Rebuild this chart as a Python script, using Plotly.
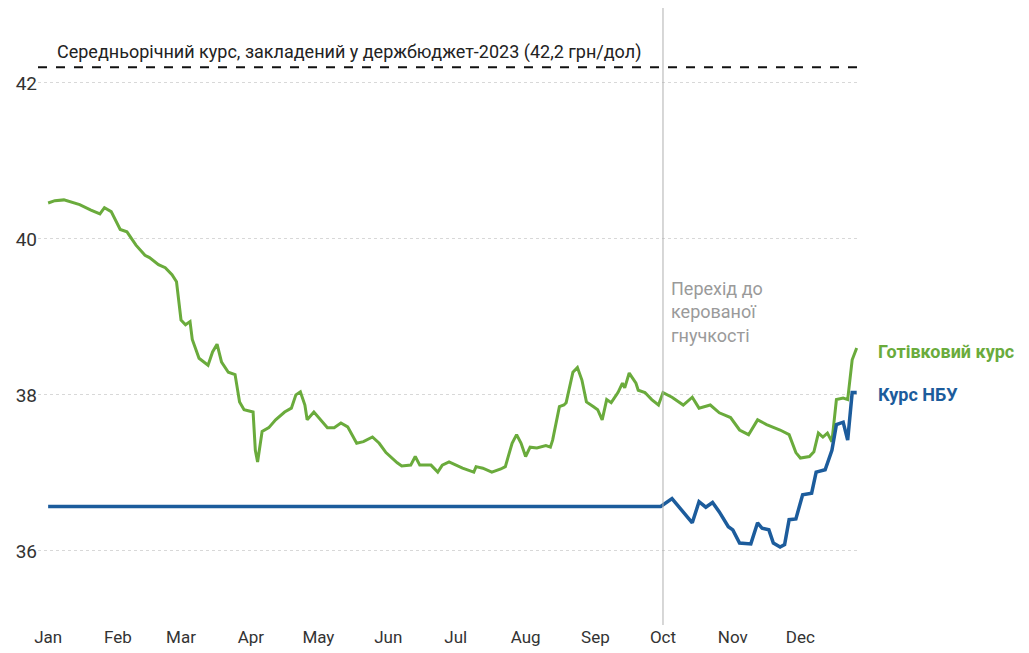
import plotly.graph_objects as go
import pandas as pd

# ─── Data (days since 1 Jan 2023, UAH per USD) ───────────────────────────────
START = pd.Timestamp("2023-01-01")

cash_days = [0, 3, 7, 11, 14, 19, 23, 25, 28, 32, 35, 39, 43, 45, 49, 52, 55, 57, 59, 61,
             63, 64, 67, 71, 73, 75, 77, 80, 83, 85, 87, 91, 92, 93, 95, 98, 101, 105, 108, 110,
             112, 114, 115, 118, 121, 124, 127, 130, 133, 137, 140, 144, 147, 150, 155, 157, 161, 163, 165, 170,
             173, 175, 178, 182, 184, 189, 190, 193, 197, 201, 203, 206, 208, 210, 212, 214, 217, 221, 223, 224,
             227, 229, 230, 233, 235, 237, 239, 242, 244, 246, 248, 250, 253, 255, 256, 258, 261, 262, 265, 268,
             271, 273, 277, 282, 286, 289, 294, 298, 303, 307, 311, 315, 319, 325, 329, 332, 334, 338, 340, 342,
             344, 346, 348, 350, 353, 355, 357, 359]
cash_rate = [40.46, 40.49, 40.50, 40.47, 40.44, 40.37, 40.32, 40.40, 40.35, 40.12, 40.09, 39.92, 39.79, 39.76, 39.67, 39.63, 39.54, 39.45, 38.96, 38.90,
             38.94, 38.71, 38.47, 38.38, 38.55, 38.65, 38.42, 38.29, 38.26, 37.91, 37.81, 37.78, 37.29, 37.14, 37.53, 37.58, 37.68, 37.78, 37.83, 38.00,
             38.04, 37.87, 37.68, 37.78, 37.68, 37.58, 37.58, 37.64, 37.59, 37.38, 37.40, 37.46, 37.38, 37.26, 37.13, 37.09, 37.10, 37.21, 37.10, 37.10,
             37.01, 37.10, 37.14, 37.09, 37.06, 37.01, 37.08, 37.06, 37.01, 37.05, 37.08, 37.38, 37.49, 37.38, 37.21, 37.33, 37.32, 37.35, 37.33, 37.42,
             37.85, 37.87, 37.90, 38.29, 38.35, 38.19, 37.91, 37.85, 37.81, 37.68, 37.94, 37.90, 38.03, 38.15, 38.09, 38.28, 38.15, 38.06, 38.03, 37.94,
             37.87, 38.03, 37.97, 37.87, 37.97, 37.83, 37.87, 37.77, 37.71, 37.55, 37.49, 37.68, 37.62, 37.55, 37.49, 37.26, 37.19, 37.21, 37.27, 37.51,
             37.46, 37.51, 37.40, 37.94, 37.96, 37.94, 38.45, 38.60]

nbu_days = [0, 272, 277, 281, 284, 286, 289, 292, 295, 298, 302, 304, 307, 312, 315, 317, 320, 322, 325, 327,
            329, 332, 335, 339, 341, 345, 348, 350, 353, 355, 357, 359]
nbu_rate = [36.57, 36.57, 36.67, 36.53, 36.42, 36.36, 36.63, 36.56, 36.62, 36.50, 36.31, 36.27, 36.10, 36.09, 36.36, 36.29, 36.27, 36.10, 36.05, 36.08,
            36.40, 36.41, 36.72, 36.74, 37.01, 37.04, 37.29, 37.62, 37.65, 37.42, 38.03, 38.03]

budget_rate = 42.2
float_date = "2023-10-01"

month_ticks = pd.date_range("2023-01-01", "2023-12-01", freq="MS")
month_labels = ["Jan", "Feb", "Mar", "Apr", "May", "Jun", "Jul", "Aug", "Sep", "Oct", "Nov", "Dec"]
y_ticks = [36, 38, 40, 42]

GREEN = "#6aab3c"
BLUE = "#1c5c9c"
GREY = "#9a9a9a"
FONT = "Roboto, sans-serif"

cash_x = START + pd.to_timedelta(cash_days, unit="D")
nbu_x = START + pd.to_timedelta(nbu_days, unit="D")

fig = go.Figure()
fig.add_trace(go.Scatter(x=cash_x, y=cash_rate, mode="lines", name="Готівковий курс",
                         line=dict(color=GREEN, width=3)))
fig.add_trace(go.Scatter(x=nbu_x, y=nbu_rate, mode="lines", name="Курс НБУ",
                         line=dict(color=BLUE, width=3.5)))

# budget reference line
fig.add_shape(type="line", xref="paper", x0=0, x1=1, yref="y", y0=budget_rate, y1=budget_rate,
              line=dict(color="#111111", width=2, dash="dash"))
fig.add_annotation(xref="paper", x=0.021, y=42.40, xanchor="left", yanchor="middle", showarrow=False,
                   text="Середньорічний курс, закладений у держбюджет-2023 (42,2 грн/дол)",
                   font=dict(size=18, color="#222222", family=FONT))

# managed flexibility marker
fig.add_shape(type="line", xref="x", x0=float_date, x1=float_date, yref="paper", y0=0, y1=1,
              line=dict(color="#b0b0b0", width=1))
fig.add_annotation(xref="x", x=float_date, xshift=6, yref="paper", y=0.565, xanchor="left", yanchor="top",
                   showarrow=False, align="left", text="Перехід до<br>керованої<br>гнучкості",
                   font=dict(size=18, color=GREY, family=FONT))

# series labels
fig.add_annotation(xref="paper", x=1.022, y=38.55, xanchor="left", yanchor="middle", showarrow=False,
                   text="<b>Готівковий курс</b>", font=dict(size=18, color=GREEN, family=FONT))
fig.add_annotation(xref="paper", x=1.022, y=38.0, xanchor="left", yanchor="middle", showarrow=False,
                   text="<b>Курс НБУ</b>", font=dict(size=18, color=BLUE, family=FONT))

fig.update_layout(
    width=1021, height=645,
    paper_bgcolor="white", plot_bgcolor="white",
    margin=dict(l=30, r=171, t=0, b=28),
    showlegend=False,
    font=dict(family=FONT, size=17, color="#333333"),
    xaxis=dict(type="date", range=["2022-12-27 12:00", "2023-12-26 14:00"],
               tickvals=month_ticks, ticktext=month_labels, showgrid=False,
               showline=False, zeroline=False, ticks="", tickfont=dict(size=17, color="#333333")),
    yaxis=dict(range=[35.05, 42.96], tickvals=y_ticks, ticktext=[str(v) for v in y_ticks],
               showgrid=True, gridcolor="#d8d8d8", griddash="dot", gridwidth=1,
               zeroline=False, showline=False, ticks="", tickfont=dict(size=19, color="#333333")),
)

fig.write_html("out.html")
